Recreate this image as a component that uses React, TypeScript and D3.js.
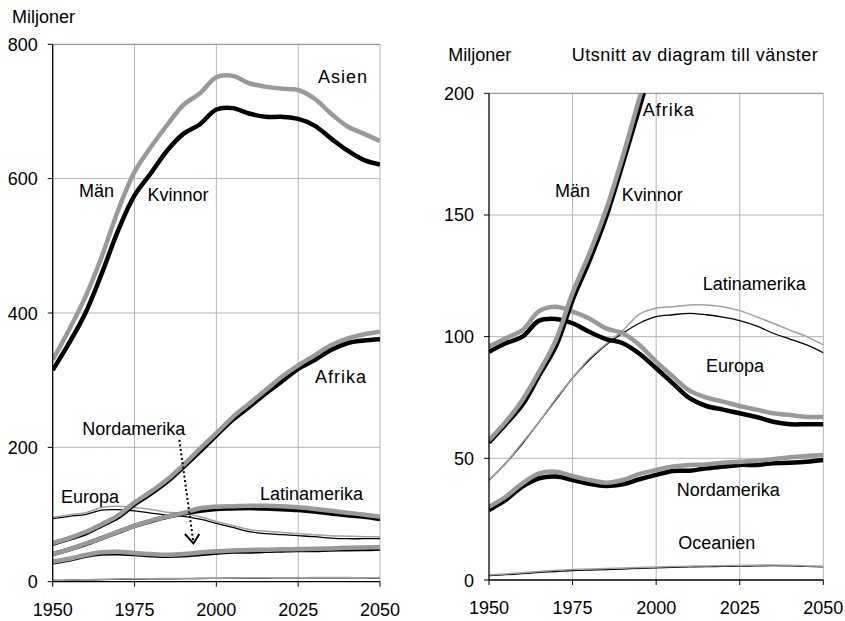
import React from "react";
import * as d3 from "d3";

const years = [1950, 1955, 1960, 1965, 1970, 1975, 1980, 1985, 1990, 1995, 2000, 2005, 2010, 2015, 2020, 2025, 2030, 2035, 2040, 2045, 2050];

const asienMan = [330, 375, 424, 484, 553, 610, 647, 680, 710, 727, 751, 753, 742, 737, 734, 732, 719, 697, 678, 667, 656];
const asienKvinnor = [315, 355, 400, 459, 523, 575, 608, 642, 667, 681, 703, 705, 697, 692, 692, 689, 679, 660, 642, 628, 621];
const afrikaMan = [57.5, 65, 74, 85.6, 98.6, 118, 134, 152, 174, 198, 221, 245, 265, 285, 305, 322, 337, 352, 362, 368, 372];
const afrikaKvinnor = [56.5, 64, 72, 84, 96, 115, 131, 149, 171, 194, 218, 241, 260, 280, 298, 317, 330, 345, 355, 359, 361];
const europaMan = [95.9, 99.3, 102.7, 110.5, 112.3, 110.3, 107.5, 103.4, 101.4, 96.6, 89.7, 83.6, 77.8, 75, 73.3, 71.5, 70, 68.5, 67.8, 67, 67];
const europaKvinnor = [93.8, 97.3, 100, 106.6, 107.3, 105.5, 102, 99, 97.3, 93, 87, 80.8, 74.7, 71.5, 70, 68.5, 67, 65, 64, 64, 64];
const latinMan = [41, 48, 56.5, 65, 74.5, 83, 91, 97, 102.5, 109.3, 111.7, 112.3, 113, 113, 112.3, 110.7, 108.2, 105.5, 102.7, 100, 96.6];
const latinKvinnor = [41, 48, 56, 65, 74, 83, 90.4, 96.6, 101.4, 105.5, 108.2, 109, 109.6, 109, 108, 106.6, 104.4, 101.4, 99, 96.6, 93.4];
const nordMan = [30.1, 34.2, 39.7, 43.8, 44.5, 42.7, 41.1, 40, 41.1, 43.6, 45.2, 46.6, 47.3, 47.5, 48.2, 48.6, 49, 49.6, 50.4, 51, 51.4];
const nordKvinnor = [28.8, 32.9, 38.4, 41.8, 42.5, 41.1, 39.5, 38.6, 39.3, 41.4, 43.2, 44.8, 44.9, 45.9, 46.6, 47.3, 47.3, 48, 48.2, 48.6, 49.3];
const oceanMan = [2.1, 2.5, 3.0, 3.5, 4.0, 4.3, 4.5, 4.7, 4.9, 5.1, 5.3, 5.5, 5.7, 5.8, 5.9, 6.0, 6.1, 6.2, 6.1, 5.8, 5.6];
const oceanKvinnor = [1.8, 2.2, 2.6, 3.1, 3.5, 3.9, 4.1, 4.3, 4.5, 4.8, 5.0, 5.2, 5.4, 5.5, 5.6, 5.7, 5.8, 5.9, 5.8, 5.6, 5.4];

const xTicks = [1950, 1975, 2000, 2025, 2050];
const yTicksLeft = [0, 200, 400, 600, 800];
const yTicksRight = [0, 50, 100, 150, 200];

type Series = { name: string; man: number[]; kvinnor: number[] };
const seriesList: Series[] = [
  { name: "Oceanien", man: oceanMan, kvinnor: oceanKvinnor },
  { name: "Nordamerika", man: nordMan, kvinnor: nordKvinnor },
  { name: "Latinamerika", man: latinMan, kvinnor: latinKvinnor },
  { name: "Europa", man: europaMan, kvinnor: europaKvinnor },
  { name: "Afrika", man: afrikaMan, kvinnor: afrikaKvinnor },
  { name: "Asien", man: asienMan, kvinnor: asienKvinnor },
];

const FONT = "'Liberation Sans', Arial, sans-serif";

type Label = { text: string; x: number; y: number; ls?: number };

function Panel(props: {
  id: string;
  xRange: [number, number];
  yRange: [number, number];
  yMax: number;
  yTicks: number[];
  thick: string[];
  include: string[];
  labels: Label[];
  arrow?: boolean;
}) {
  const { id, xRange, yRange, yMax, yTicks, thick, include, labels, arrow } = props;
  const x = d3.scaleLinear().domain([1950, 2050]).range(xRange);
  const y = d3.scaleLinear().domain([0, yMax]).range(yRange);
  const line = d3
    .line<number>()
    .x((_, i) => x(years[i]))
    .y((d) => y(d))
    .curve(d3.curveCatmullRom.alpha(0.5));
  const [x0, x1] = xRange;
  const [yb, yt] = yRange;
  const list = seriesList.filter((s) => include.includes(s.name));
  const thinList = list.filter((s) => !thick.includes(s.name));
  const thickList = list.filter((s) => thick.includes(s.name));
  return (
    <g>
      <defs>
        <clipPath id={id}>
          <rect x={x0} y={yt} width={x1 - x0} height={yb - yt} />
        </clipPath>
      </defs>
      {/* grid */}
      {xTicks.slice(1).map((t) => (
        <line key={"gx" + t} x1={x(t)} x2={x(t)} y1={yb} y2={yt} stroke="#b4b4b4" strokeWidth={1} />
      ))}
      {yTicks.slice(1).map((t, i) => (
        <line
          key={"gy" + t}
          x1={x0}
          x2={x1}
          y1={y(t)}
          y2={y(t)}
          stroke={i === yTicks.length - 2 ? "#808080" : "#b4b4b4"}
          strokeWidth={1}
        />
      ))}
      {/* lines */}
      <g clipPath={`url(#${id})`}>
        {thinList.map((s) => (
          <g key={s.name}>
            <path d={line(s.kvinnor) || ""} fill="none" stroke="#000" strokeWidth={1.3} />
            <path d={line(s.man) || ""} fill="none" stroke="#a0a0a0" strokeWidth={1.5} />
          </g>
        ))}
        {thickList.map((s) => (
          <g key={s.name}>
            <path d={line(s.kvinnor) || ""} fill="none" stroke="#000" strokeWidth={4.5} strokeLinejoin="round" />
            <path d={line(s.man) || ""} fill="none" stroke="#999999" strokeWidth={4.5} strokeLinejoin="round" />
          </g>
        ))}
      </g>
      {/* axes */}
      <line x1={x0} x2={x0} y1={yb} y2={yt} stroke="#000" strokeWidth={1.3} />
      <line x1={x0} x2={x1} y1={yb} y2={yb} stroke="#000" strokeWidth={1.3} />
      {yTicks.map((t) => (
        <g key={"ty" + t}>
          <line x1={x0 - 5} x2={x0} y1={y(t)} y2={y(t)} stroke="#000" strokeWidth={1} />
          <text x={x0 - 15} y={y(t) + 6.5} textAnchor="end" fontSize={18} fontFamily={FONT} fill="#000">
            {t}
          </text>
        </g>
      ))}
      {xTicks.map((t) => (
        <g key={"tx" + t}>
          <line x1={x(t)} x2={x(t)} y1={yb} y2={yb + 5} stroke="#000" strokeWidth={1} />
          <text x={x(t)} y={yb + 34} textAnchor="middle" fontSize={18} fontFamily={FONT} fill="#000">
            {t}
          </text>
        </g>
      ))}
      {labels.map((l) => (
        <text
          key={l.text + l.x}
          x={l.x}
          y={l.y}
          fontSize={18}
          fontFamily={FONT}
          fill="#000"
          letterSpacing={l.ls || 0}
        >
          {l.text}
        </text>
      ))}
      {arrow && (
        <g>
          <line
            x1={x(1988.7)}
            y1={y(211)}
            x2={x(1993)}
            y2={y(58)}
            stroke="#000"
            strokeWidth={2}
            strokeDasharray="2,2.5"
          />
          <polyline
            points={`${x(1990.4)},${y(71)} ${x(1993)},${y(57)} ${x(1994.8)},${y(71)}`}
            fill="none"
            stroke="#000"
            strokeWidth={2}
          />
        </g>
      )}
    </g>
  );
}

export default function App() {
  return (
    <div style={{ position: "absolute", left: 0, top: 0 }}>
      <svg width={845} height={621} style={{ display: "block", background: "#fff" }}>
        <Panel
          id="clipL"
          xRange={[52.7, 380]}
          yRange={[581.7, 44.3]}
          yMax={800}
          yTicks={yTicksLeft}
          thick={["Asien", "Afrika", "Latinamerika", "Nordamerika"]}
          include={["Oceanien", "Nordamerika", "Latinamerika", "Europa", "Afrika", "Asien"]}
          arrow={true}
          labels={[
            { text: "Miljoner", x: 12, y: 23 },
            { text: "Asien", x: 318, y: 83, ls: 1 },
            { text: "Män", x: 79, y: 197 },
            { text: "Kvinnor", x: 147.5, y: 200.5 },
            { text: "Afrika", x: 315, y: 382.5, ls: 1 },
            { text: "Nordamerika", x: 82.3, y: 434.5 },
            { text: "Europa", x: 61, y: 502.5 },
            { text: "Latinamerika", x: 260, y: 500 },
          ]}
        />
        <Panel
          id="clipR"
          xRange={[489, 823.3]}
          yRange={[580, 93.3]}
          yMax={200}
          yTicks={yTicksRight}
          thick={["Afrika", "Europa", "Nordamerika"]}
          include={["Oceanien", "Nordamerika", "Latinamerika", "Europa", "Afrika"]}
          labels={[
            { text: "Miljoner", x: 448.3, y: 61 },
            { text: "Utsnitt av diagram till vänster", x: 571.7, y: 61, ls: 0.5 },
            { text: "Afrika", x: 642.7, y: 116, ls: 1 },
            { text: "Män", x: 555, y: 197 },
            { text: "Kvinnor", x: 621.7, y: 200.7 },
            { text: "Latinamerika", x: 702.7, y: 290 },
            { text: "Europa", x: 706, y: 371.7 },
            { text: "Nordamerika", x: 676.7, y: 496 },
            { text: "Oceanien", x: 678.3, y: 549.3 },
          ]}
        />
      </svg>
    </div>
  );
}
